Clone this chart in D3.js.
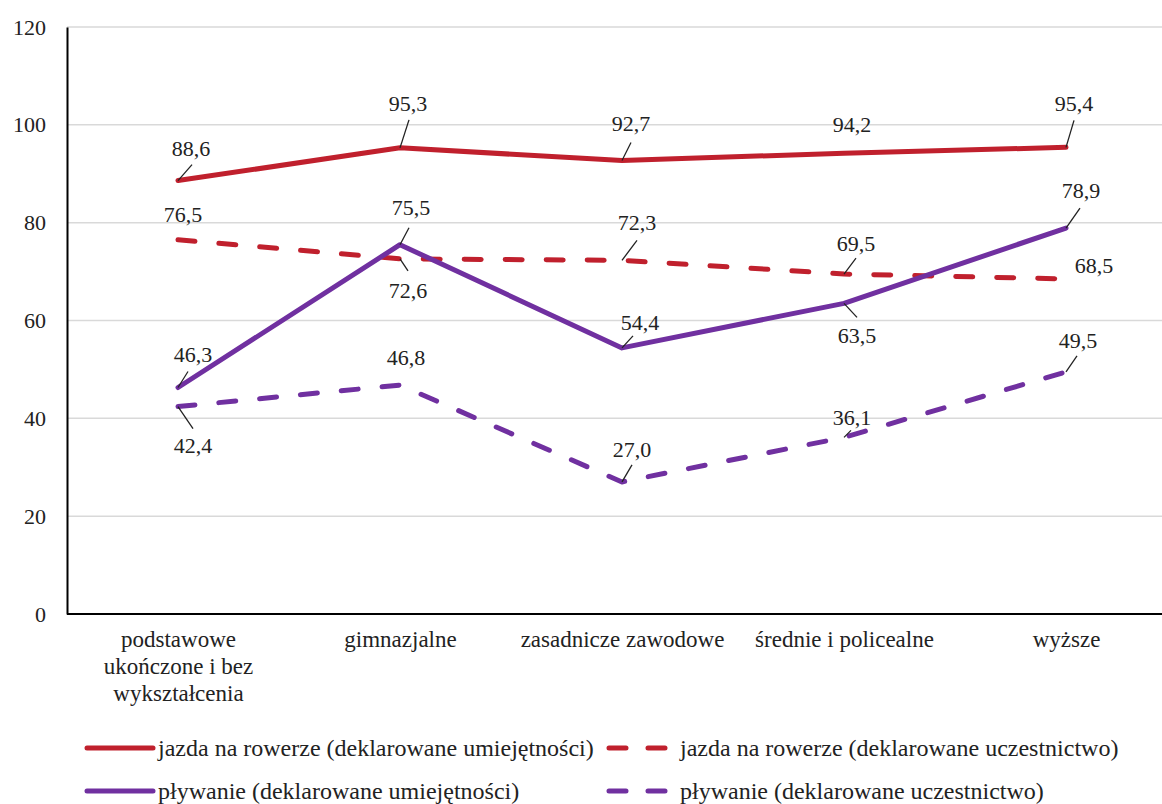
<!DOCTYPE html>
<html>
<head>
<meta charset="utf-8">
<script src="https://cdn.jsdelivr.net/npm/d3@7"></script>
<style>
  body { margin: 0; background: #fff; }
</style>
</head>
<body>
<svg id="chart" width="1162" height="804"></svg>
<script>
// ---- data ----
const categories = [
  "podstawowe\nukończone i bez\nwykształcenia",
  "gimnazjalne",
  "zasadnicze zawodowe",
  "średnie i policealne",
  "wyższe"
];
const seriesNames = [
  "jazda na rowerze (deklarowane umiejętności)",
  "jazda na rowerze (deklarowane uczestnictwo)",
  "pływanie (deklarowane umiejętności)",
  "pływanie (deklarowane uczestnictwo)"
];
const bikeSkills = [88.6, 95.3, 92.7, 94.2, 95.4];
const bikeParticipation = [76.5, 72.6, 72.3, 69.5, 68.5];
const swimSkills = [46.3, 75.5, 54.4, 63.5, 78.9];
const swimParticipation = [42.4, 46.8, 27.0, 36.1, 49.5];
const yTicks = [0, 20, 40, 60, 80, 100, 120];

// ---- styles / layout ----
const seriesValues = [bikeSkills, bikeParticipation, swimSkills, swimParticipation];
const colors = ["#C0202D", "#C0202D", "#7030A0", "#7030A0"];
const dashed = [false, true, false, true];
// label offsets: [dx, dy, leaderDx, leaderDy] relative to the point (leader null => none)
const labelOffsets = [
  [[13,-32,14,-16],[8,-45,9,-28],[9,-37,9,-18],[8,-29,null,null],[8,-44,8,-27]],
  [[5,-25,null,null],[8,31,8,12],[15,-38,15,-20],[12,-31,12,-16],[28,-14,null,null]],
  [[15,-33,10,-16],[11,-37,9,-17],[18,-26,11,-12],[13,32,13,14],[15,-38,14,-20]],
  [[15,39,15,22],[6,-28,null,null],[10,-33,10,-17],[8,-20,7,-7],[12,-32,11,-16]]
];

const svg = d3.select("#chart");
const mLeft = 67, mTop = 27, mBottom = 614, mRight = 1177;
const FONT = "Liberation Serif, Times New Roman, Times, Tinos, Noto Serif, DejaVu Serif, serif";
const fmt = v => v.toFixed(1).replace(".", ",");

const x = d3.scalePoint().domain(categories).range([mLeft, mRight]).padding(0.5);
const y = d3.scaleLinear().domain([0, 120]).range([mBottom, mTop]);

// gridlines
svg.append("g").selectAll("line").data(yTicks.filter(t => t > 0)).join("line")
  .attr("x1", mLeft).attr("x2", 1162)
  .attr("y1", d => y(d)).attr("y2", d => y(d))
  .attr("stroke", "#d9d9d9").attr("stroke-width", 1.5);

// y axis
const yAxis = svg.append("g").attr("transform", `translate(${mLeft},0)`)
  .call(d3.axisLeft(y).tickValues(yTicks).tickSize(0).tickPadding(21).tickFormat(d => d));
yAxis.attr("font-family", null).attr("font-size", null);
yAxis.select(".domain").attr("stroke", "#000").attr("stroke-width", 2);
yAxis.selectAll("text").attr("fill", "#222").style("font-family", FONT).style("font-size", "22px");

// x axis
const xAxis = svg.append("g").attr("transform", `translate(0,${mBottom})`)
  .call(d3.axisBottom(x).tickSize(0).tickFormat(""));
xAxis.attr("font-family", null).attr("font-size", null);
xAxis.select(".domain").attr("d", `M${mLeft},0H1162`).attr("stroke", "#000").attr("stroke-width", 2);
xAxis.selectAll(".tick").each(function(d) {
  const t = d3.select(this).append("text")
    .attr("text-anchor", "middle").attr("fill", "#222")
    .style("font-family", FONT).style("font-size", "23px");
  d.split("\n").forEach((line, i) => {
    t.append("tspan").attr("x", 0).attr("y", 33 + i * 27).text(line);
  });
});

// lines
const lineGen = d3.line().x((d, i) => x(categories[i])).y(d => y(d));
seriesValues.forEach((vals, s) => {
  svg.append("path").datum(vals)
    .attr("d", lineGen)
    .attr("fill", "none")
    .attr("stroke", colors[s])
    .attr("stroke-width", 5)
    .attr("stroke-linecap", "round")
    .attr("stroke-linejoin", "round")
    .attr("stroke-dasharray", dashed[s] ? "17,24" : null);
});

// data labels
seriesValues.forEach((vals, s) => {
  const g = svg.append("g");
  vals.forEach((v, i) => {
    const px = x(categories[i]), py = y(v);
    const o = labelOffsets[s][i];
    if (o[2] !== null) {
      g.append("line")
        .attr("x1", px).attr("y1", py)
        .attr("x2", px + o[2]).attr("y2", py + o[3])
        .attr("stroke", "#222").attr("stroke-width", 1.3);
    }
    g.append("text")
      .attr("x", px + o[0]).attr("y", py + o[1])
      .attr("dy", "0.35em")
      .attr("text-anchor", "middle")
      .attr("fill", "#222")
      .style("font-family", FONT).style("font-size", "22px")
      .text(fmt(v));
  });
});

// legend
const legendPos = [[85, 748], [607, 748], [85, 791], [607, 791]];
seriesNames.forEach((name, s) => {
  const [lx, ly] = legendPos[s];
  const g = svg.append("g");
  if (dashed[s]) {
    g.append("line").attr("x1", lx + 2).attr("x2", lx + 60).attr("y1", ly).attr("y2", ly)
      .attr("stroke", colors[s]).attr("stroke-width", 5).attr("stroke-linecap", "round")
      .attr("stroke-dasharray", "17,22");
  } else {
    g.append("line").attr("x1", lx + 2).attr("x2", lx + 68).attr("y1", ly).attr("y2", ly)
      .attr("stroke", colors[s]).attr("stroke-width", 5).attr("stroke-linecap", "round");
  }
  g.append("text").attr("x", lx + 73).attr("y", ly + 8)
    .attr("fill", "#222")
    .style("font-family", FONT).style("font-size", "24px")
    .text(name);
});
</script>
</body>
</html>
